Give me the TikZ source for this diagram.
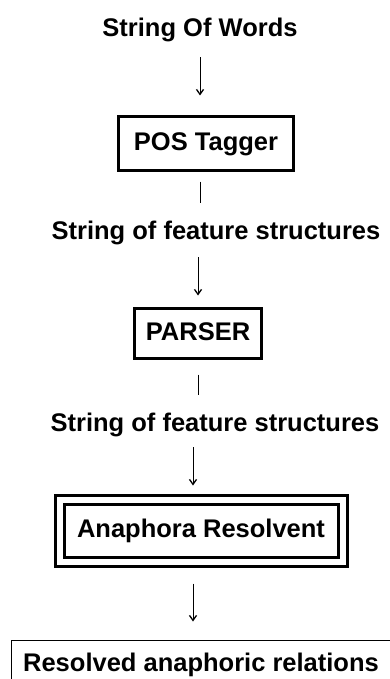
\documentclass[tikz,border=0pt]{standalone}
\usepackage{fontspec}
\setmainfont{Liberation Sans}
\usetikzlibrary{arrows.meta}
\tikzset{
  lbl/.style={inner sep=0pt, text height=18pt, text depth=5pt, font=\fontsize{25.5}{30}\selectfont\bfseries},
  stage/.style={lbl, draw, line width=3pt},
  arr/.style={line width=1pt, -{Straight Barb[length=5pt,width=7pt,line width=1.3pt]}},
  ln/.style={line width=1pt}
}
\begin{document}
\begin{tikzpicture}[x=1pt, y=-1pt]
      \useasboundingbox (0,0) rectangle (390,679);
      \draw
        (200,30.5) node[lbl] (words){String Of Words}
        (206,143.5) node[stage, minimum width=175pt, minimum height=54pt] (pos){POS Tagger}
        (216,232.5) node[lbl] (feat1){String of feature structures}
        (198,333.5) node[stage, minimum width=127pt, minimum height=50pt] (parser){PARSER}
        (215,424.5) node[lbl] (feat2){String of feature structures}
        (201,530.5) node[stage, double, double distance=6pt, minimum width=283pt, minimum height=62pt] (ana){Anaphora Resolvent}
        (201,664.5) node[lbl, draw, line width=1pt, minimum width=379pt, minimum height=49pt] (res){Resolved anaphoric relations};
      \begin{scope}[arr]
        \draw[shorten <=15pt, shorten >=19.5pt] (words.south) to (words |- pos.north);
        \draw[shorten <=13pt, shorten >=11.5pt] (parser |- feat1.south) to (parser.north);
        \draw[shorten <=11pt, shorten >=12.5pt] ([xshift=-8pt]ana.north |- feat2.south) to ([xshift=-8pt]ana.north);
        \draw[shorten <=20.5pt, shorten >=18pt] ([xshift=-8pt]ana.south) to ([xshift=-8pt]ana.south |- res.north);
      \end{scope}
      \begin{scope}[ln]
        \draw[shorten <=9.5pt, shorten >=18pt] (words |- pos.south) to (words |- feat1.north);
        \draw[shorten <=14.5pt, shorten >=18pt] (parser.south) to (parser |- feat2.north);
      \end{scope}
    \end{tikzpicture}
\end{document}
